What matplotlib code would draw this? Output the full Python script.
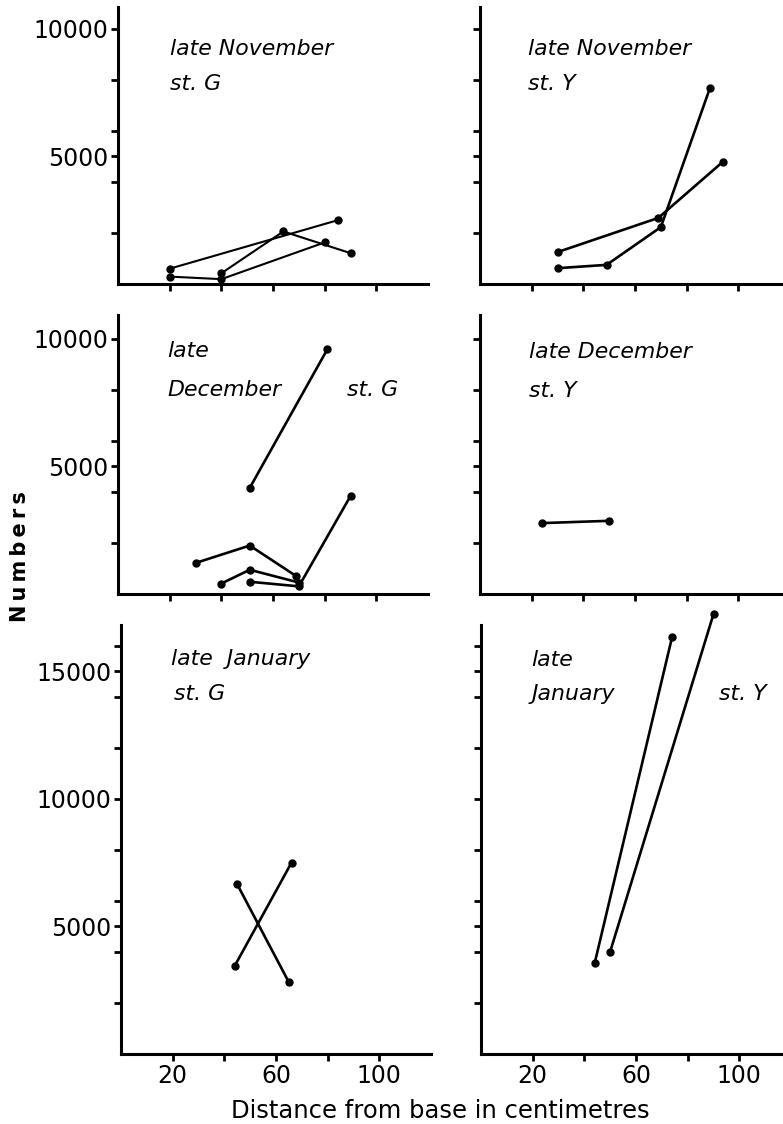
import matplotlib
matplotlib.use("Agg")
import matplotlib.pyplot as plt

# distance from base (cm) and numbers
nov_g_x = [[20, 85], [20, 40, 80], [40, 64, 90]]
nov_g_y = [[600, 2500], [290, 190, 1630], [420, 2060, 1210]]

nov_y_x = [[30, 69, 94], [30, 49, 70, 89]]
nov_y_y = [[1250, 2590, 4790], [620, 750, 2230, 7680]]

dec_g_x = [[51, 81], [30, 51, 69], [40, 51, 70], [51, 70, 90]]
dec_g_y = [[4160, 9590], [1215, 1900, 700], [410, 950, 450], [480, 300, 3840]]

dec_y_x = [[24, 50]]
dec_y_y = [[2780, 2870]]

jan_g_x = [[45, 65], [44, 66]]
jan_g_y = [[6650, 2810], [3450, 7500]]

jan_y_x = [[44, 74], [50, 90]]
jan_y_y = [[3560, 16360], [4010, 17250]]

x_ticks = [20, 40, 60, 80, 100]
x_labels = ["20", "", "60", "", "100"]
y_ticks_short = [2000, 4000, 5000, 6000, 8000, 10000]
y_labels_short = ["", "", "5000", "", "", "10000"]
y_ticks_tall = [2000, 4000, 5000, 6000, 8000, 10000, 12000, 14000, 15000, 16000]
y_labels_tall = ["", "", "5000", "", "", "10000", "", "", "15000", ""]

W, H = 783, 1124
fig = plt.figure(figsize=(W / 100, H / 100), dpi=100)
plt.rcParams['font.family'] = 'DejaVu Sans'

def make_ax(left_px, bottom_px, top_px, ymax):
  ax = fig.add_axes([left_px / W, 1 - bottom_px / H, 310 / W, (bottom_px - top_px) / H])
  ax.set_xlim(0, 120)
  ax.set_ylim(0, ymax)
  for s in ["top", "right"]:
    ax.spines[s].set_visible(False)
  for s in ["left", "bottom"]:
    ax.spines[s].set_linewidth(2.2)
  ax.tick_params(direction="out", length=5, width=2, labelsize=17, pad=2)
  ax.set_facecolor("none")
  return ax

def draw(ax, xs, ys, lw=1.8):
  for x, y in zip(xs, ys):
    ax.plot(x, y, "-o", color="black", lw=lw, ms=5, clip_on=False)

def labels(ax, texts):
  for x, y, t in texts:
    ax.text(x, y, t, fontsize=15.8, style="italic", va="baseline", ha="left")

panels = [
  # left, bottom, top, ymax, xs, ys, texts, tall, is_left
  (118, 284, 7, 10860, nov_g_x, nov_g_y,
   [(20, 8980, "late November"), (20, 7610, "st. G")], False, True),
  (480, 284, 7, 10860, nov_y_x, nov_y_y,
   [(18.6, 8980, "late November"), (18.6, 7610, "st. Y")], False, False),
  (118, 594, 315, 10940, dec_g_x, dec_g_y,
   [(19, 9290, "late"), (19, 7765, "December"), (88.8, 7765, "st. G")], False, True),
  (480, 594, 315, 10940, dec_y_x, dec_y_y,
   [(19, 9255, "late December"), (19, 7725, "st. Y")], False, False),
  (121, 1054, 625, 16820, jan_g_x, jan_g_y,
   [(19.5, 15255, "late  January"), (20.5, 13880, "st. G")], True, True),
  (481, 1054, 625, 16820, jan_y_x, jan_y_y,
   [(19.4, 15215, "late"), (19.4, 13880, "January"), (92.2, 13880, "st. Y")], True, False),
]

for left, bottom, top, ymax, xs, ys, texts, tall, is_left in panels:
  ax = make_ax(left, bottom, top, ymax)
  draw(ax, xs, ys, lw=1.5 if xs is nov_g_x else 1.9)
  labels(ax, texts)
  ax.set_xticks(x_ticks)
  if tall:
    ax.set_xticklabels(x_labels)
    ax.set_yticks(y_ticks_tall)
    ax.set_yticklabels(y_labels_tall if is_left else [""] * len(y_ticks_tall))
  else:
    ax.set_xticklabels([""] * len(x_ticks))
    ax.set_yticks(y_ticks_short)
    ax.set_yticklabels(y_labels_short if is_left else [""] * len(y_ticks_short))

fig.text(440 / W, 1 - 1118 / H, "Distance from base in centimetres",
         fontsize=17.5, ha="center", va="baseline")
fig.text(20 / W, 1 - 557 / H, "N\u2009u\u2009m\u2009b\u2009e\u2009r\u2009s",
         fontsize=15, fontweight="bold", rotation=90, ha="center", va="center")

fig.savefig("out.png", dpi=100)
